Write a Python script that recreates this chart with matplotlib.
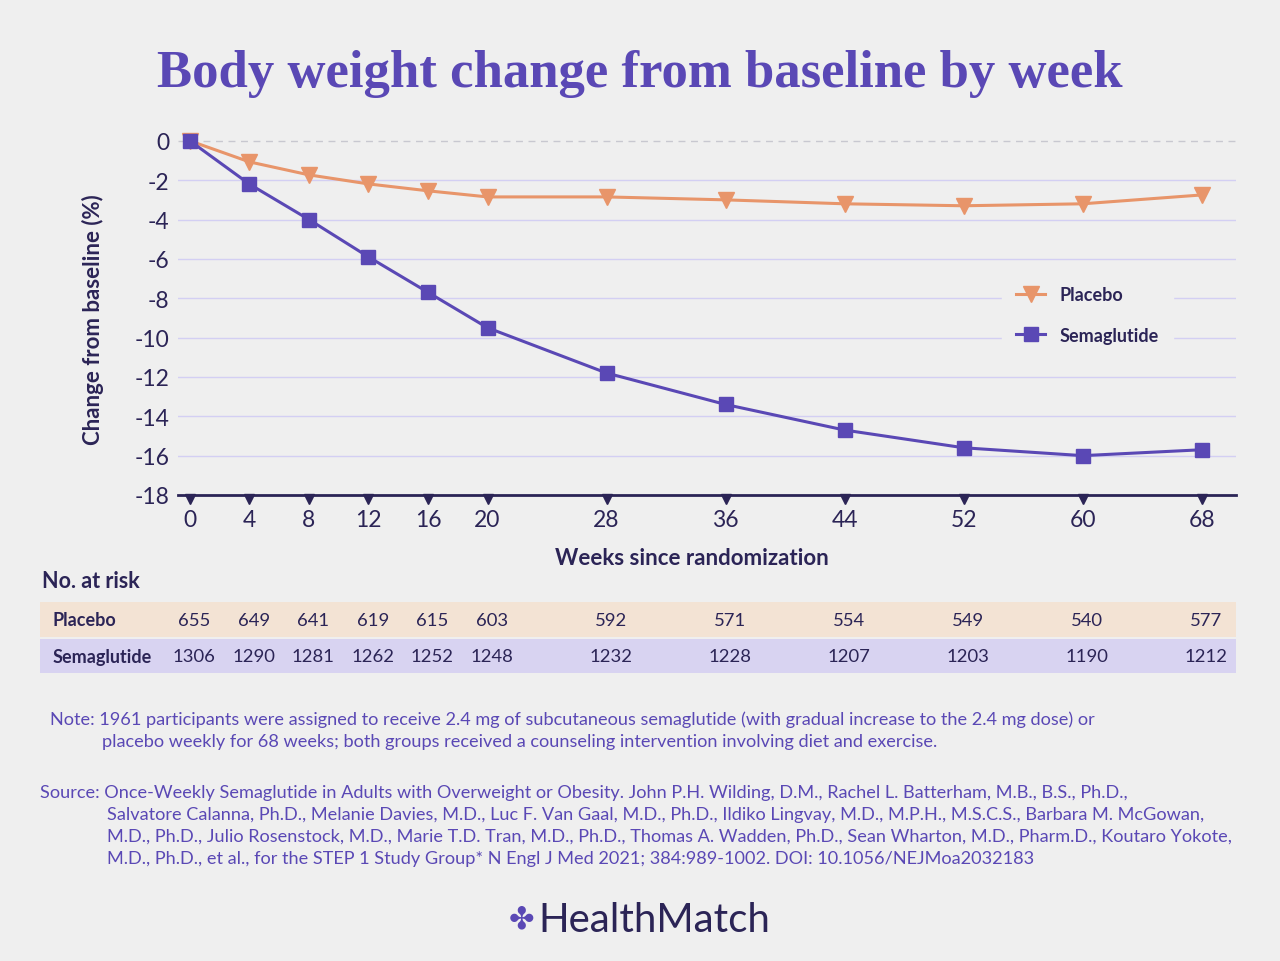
import matplotlib.pyplot as plt
import matplotlib.transforms as mtransforms

# data
weeks = [0, 4, 8, 12, 16, 20, 28, 36, 44, 52, 60, 68]
placebo = [0, -1.07, -1.73, -2.19, -2.54, -2.85, -2.85, -3.0, -3.2, -3.3, -3.2, -2.75]
sema = [0, -2.2, -4.0, -5.9, -7.7, -9.5, -11.8, -13.4, -14.7, -15.6, -16.0, -15.7]
risk_placebo = [655, 649, 641, 619, 615, 603, 592, 571, 554, 549, 540, 577]
risk_sema = [1306, 1290, 1281, 1262, 1252, 1248, 1232, 1228, 1207, 1203, 1190, 1212]
yticks = [0, -2, -4, -6, -8, -10, -12, -14, -16, -18]

bg = '#efefef'
navy = '#2b2456'
purple = '#5a48b5'
orange = '#e8956a'
grid = '#d3cff3'

plt.rcParams['font.family'] = ['Lato', 'DejaVu Sans']

W, H = 1280, 962
fig = plt.figure(figsize=(12.8, 9.62), dpi=100, facecolor=bg)

def fx(px):
    return px / W

def fy(py):
    return 1 - py / H

# axes in pixel terms
left, right, top, bottom = 178, 1236, 132, 496
ax = fig.add_axes([fx(left), fy(bottom), fx(right - left), (bottom - top) / H])
ax.set_facecolor(bg)
ax.set_xlim(-0.8, 70.3)
ax.set_ylim(-18, 0.5)

for v in yticks[1:-1]:
    ax.axhline(v, color=grid, lw=1, zorder=0)
ax.axhline(0, color='#c8c8d0', lw=1, ls=(0, (5, 4)), zorder=0)

ax.plot(weeks, placebo, color=orange, lw=2.2, marker='v', ms=11, label='Placebo', zorder=3, clip_on=False)
ax.plot(weeks, sema, color=purple, lw=2.2, marker='s', ms=10, label='Semaglutide', zorder=3, clip_on=False)

# tick markers hanging under the axis line
tick_tr = mtransforms.offset_copy(ax.transData, fig=fig, y=-4, units='dots')
ax.plot(weeks, [-18] * len(weeks), 'v', color=navy, ms=7, clip_on=False, zorder=4, transform=tick_tr)

for s in ['top', 'right', 'left']:
    ax.spines[s].set_visible(False)
ax.spines['bottom'].set_color(navy)
ax.spines['bottom'].set_linewidth(2)
ax.spines['bottom'].set_zorder(5)

ax.set_yticks(yticks)
ax.set_yticklabels([str(v) for v in yticks])
ax.set_xticks(weeks)
ax.tick_params(axis='both', length=0, labelsize=16.5, labelcolor=navy)
ax.tick_params(axis='x', pad=10)
ax.tick_params(axis='y', pad=6)

fig.text(fx(692), fy(559), 'Weeks since randomization', ha='center', va='center',
         fontsize=16, color=navy, fontweight='bold')
fig.text(fx(93), fy(320), 'Change from baseline (%)', rotation=90, ha='center', va='center',
         fontsize=16, color=navy, fontweight='bold')

leg = ax.legend(loc='center left', bbox_to_anchor=(0.77, 0.495), frameon=True, fontsize=13,
                handlelength=1.6, labelspacing=1.3, borderpad=0.8, handletextpad=0.8)
leg.get_frame().set_facecolor(bg)
leg.get_frame().set_edgecolor(bg)
leg.get_frame().set_alpha(1)
for t in leg.get_texts():
    t.set_color(navy)
    t.set_fontweight('bold')

# title
fig.text(0.5, fy(74), 'Body weight change from baseline by week', ha='center', va='center',
         fontsize=38, color=purple, fontweight='bold', family=['Liberation Serif', 'DejaVu Serif'])

# number at risk table
fig.text(fx(42), fy(582), 'No. at risk', ha='left', va='center', fontsize=15.5, color=navy, fontweight='bold')
fig.add_artist(plt.Rectangle((fx(40), fy(638)), fx(1196), 35 / H, transform=fig.transFigure,
                             facecolor='#f3e3d4', edgecolor='none', zorder=-5))
fig.add_artist(plt.Rectangle((fx(40), fy(674)), fx(1196), 34 / H, transform=fig.transFigure,
                             facecolor='#d8d3f1', edgecolor='none', zorder=-5))
fig.text(fx(53), fy(621), 'Placebo', ha='left', va='center', fontsize=13, color=navy, fontweight='bold')
fig.text(fx(53), fy(657), 'Semaglutide', ha='left', va='center', fontsize=13, color=navy, fontweight='bold')
trans = mtransforms.blended_transform_factory(ax.transData, fig.transFigure)
for w, p, s in zip(weeks, risk_placebo, risk_sema):
    ax.text(w + 0.3, fy(621), str(p), transform=trans, ha='center', va='center', fontsize=13.3,
            color=navy, clip_on=False)
    ax.text(w + 0.3, fy(657), str(s), transform=trans, ha='center', va='center', fontsize=13.3,
            color=navy, clip_on=False)

# notes
note_kw = dict(ha='left', va='center', fontsize=13.05, color=purple)
fig.text(fx(50), fy(720), 'Note: 1961 participants were assigned to receive 2.4 mg of subcutaneous semaglutide (with gradual increase to the 2.4 mg dose) or', **note_kw)
fig.text(fx(102), fy(742), 'placebo weekly for 68 weeks; both groups received a counseling intervention involving diet and exercise.', **note_kw)

fig.text(fx(40), fy(793), 'Source: Once-Weekly Semaglutide in Adults with Overweight or Obesity. John P.H. Wilding, D.M., Rachel L. Batterham, M.B., B.S., Ph.D.,', **note_kw)
src = ['Salvatore Calanna, Ph.D., Melanie Davies, M.D., Luc F. Van Gaal, M.D., Ph.D., Ildiko Lingvay, M.D., M.P.H., M.S.C.S., Barbara M. McGowan,',
       'M.D., Ph.D., Julio Rosenstock, M.D., Marie T.D. Tran, M.D., Ph.D., Thomas A. Wadden, Ph.D., Sean Wharton, M.D., Pharm.D., Koutaro Yokote,',
       'M.D., Ph.D., et al., for the STEP 1 Study Group* N Engl J Med 2021; 384:989-1002. DOI: 10.1056/NEJMoa2032183']
for i, line in enumerate(src):
    fig.text(fx(107), fy(815 + 22 * i), line, **note_kw)

# logo
fig.text(fx(538), fy(920), 'HealthMatch', ha='left', va='center', fontsize=29, color=navy)
fig.text(fx(521), fy(920), '\u2724', ha='center', va='center', fontsize=22, color=purple,
         family=['DejaVu Sans'])

fig.savefig('out.png', dpi=100, facecolor=bg)
